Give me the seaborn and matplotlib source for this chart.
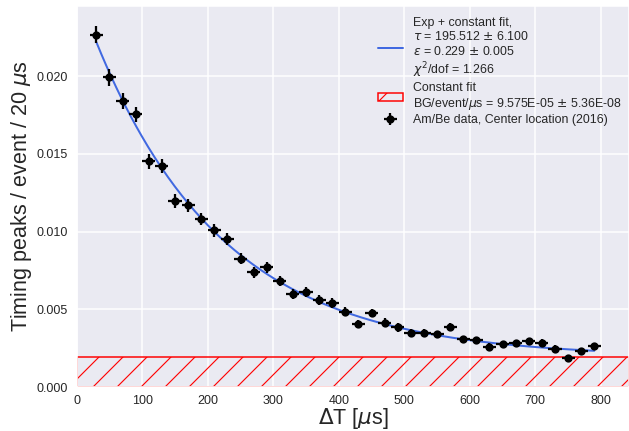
import numpy as np
import matplotlib
matplotlib.use('Agg')
import matplotlib.pyplot as plt
import seaborn as sns
from matplotlib.patches import Patch
from matplotlib.ticker import StrMethodFormatter

# bin centres (20 us bins) and measured rates
dt = [30, 50, 70, 90, 110, 130, 150, 170, 190, 210, 230, 250, 270, 290, 310, 330, 350, 370, 390,
      410, 430, 450, 470, 490, 510, 530, 550, 570, 590, 610, 630, 650, 670, 690, 710, 730, 750, 770, 790]
rate = [0.02265, 0.01992, 0.01841, 0.01755, 0.01451, 0.01419, 0.01196, 0.01169, 0.01079, 0.01008,
        0.00950, 0.00826, 0.00738, 0.00770, 0.00680, 0.00597, 0.00612, 0.00559, 0.00541, 0.00483,
        0.00404, 0.00477, 0.00415, 0.00383, 0.00347, 0.00349, 0.00338, 0.00387, 0.00306, 0.00300,
        0.00259, 0.00274, 0.00281, 0.00293, 0.00283, 0.00246, 0.00188, 0.00229, 0.00261]
rate_err = [0.00054, 0.00054, 0.00050, 0.00048, 0.00046, 0.00045, 0.00043, 0.00042, 0.00040, 0.00040,
            0.00038, 0.00036, 0.00035, 0.00035, 0.00033, 0.00032, 0.00031, 0.00030, 0.00030, 0.00029,
            0.00027, 0.00028, 0.00027, 0.00026, 0.00025, 0.00025, 0.00025, 0.00026, 0.00024, 0.00024,
            0.00023, 0.00023, 0.00024, 0.00024, 0.00024, 0.00022, 0.00020, 0.00022, 0.00023]
bin_half = 10

# fit results
tau = 195.512
fit_amp = 0.02362
bg_per_us = 9.575e-05
bg = bg_per_us * 20

DPI = 144
S = 180 / DPI  # sizes below were tuned at 180 dpi

sns.set_style('darkgrid')
plt.rcParams['font.family'] = ['Liberation Sans', 'DejaVu Sans']
plt.rcParams['grid.linewidth'] = 0.6 * S
plt.rcParams['hatch.linewidth'] = 0.45 * S

fig, ax = plt.subplots(figsize=(629 / DPI, 431 / DPI), dpi=DPI)
fig.subplots_adjust(left=0.122, right=1.0, bottom=0.102, top=0.986)

# constant background band
ax.axhspan(0, bg, facecolor='none', edgecolor='red', hatch='//', linewidth=0.6 * S)

# exp + constant fit curve
t = np.linspace(dt[0], dt[-1], 300)
fit = fit_amp * np.exp(-t / tau) + bg
sns.lineplot(x=t, y=fit, ax=ax, color='royalblue', linewidth=0.8 * S)

eb = ax.errorbar(dt, rate, xerr=bin_half, yerr=rate_err, fmt='o', color='black',
                 markersize=2.5 * S, elinewidth=0.9 * S, capsize=0)

ax.set_xlim(0, 843)
ax.set_ylim(0, 0.0245)
ax.set_xticks([0, 100, 200, 300, 400, 500, 600, 700, 800])
ax.set_yticks([0.0, 0.005, 0.010, 0.015, 0.020])
ax.yaxis.set_major_formatter(StrMethodFormatter('{x:.3f}'))
ax.tick_params(labelsize=5.0 * S, colors='.15', length=0)
ax.tick_params(axis='y', pad=3.6 * S)
ax.tick_params(axis='x', pad=4.2)
ax.set_xlabel(r'$\Delta$T [$\mu$s]', fontsize=8.6 * S, color='.15', labelpad=-0.6)
ax.set_ylabel(r'Timing peaks / event / 20 $\mu$s', fontsize=8.6 * S, color='.15', labelpad=0.8 * S)

fit_handle = plt.Line2D([], [], color='royalblue', linewidth=0.8 * S)
bg_handle = Patch(facecolor='none', edgecolor='red', hatch='//', linewidth=0.6 * S)
labels = ['Exp + constant fit,\n' + r'$\tau$ = 195.512 $\pm$ 6.100' + '\n'
          + r'$\varepsilon$ = 0.229 $\pm$ 0.005' + '\n' + r'$\chi^2$/dof = 1.266',
          'Constant fit\n' + r'BG/event/$\mu$s = 9.575E-05 $\pm$ 5.36E-08',
          'Am/Be data, Center location (2016)']
leg = ax.legend([fit_handle, bg_handle, eb], labels, loc='upper right', bbox_to_anchor=(1.0, 0.991),
                fontsize=4.95 * S, frameon=False, handlelength=2.0, borderaxespad=0.2,
                labelspacing=0.2)
for txt in leg.get_texts():
    txt.set_linespacing(1.15)

fig.savefig('out.png', dpi=DPI)
